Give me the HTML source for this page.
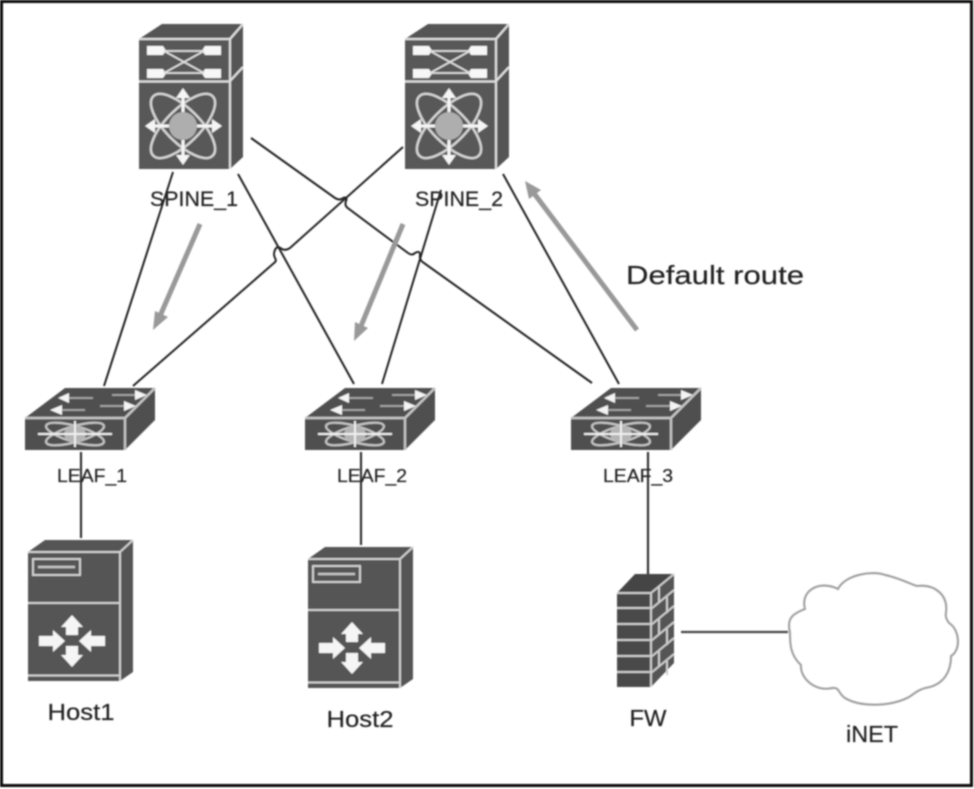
<!DOCTYPE html>
<html><head><meta charset="utf-8"><style>
html,body{margin:0;padding:0;background:#fff;width:974px;height:789px;overflow:hidden}
svg{display:block}
text{font-family:"Liberation Sans",sans-serif;fill:#222;stroke:#333;stroke-width:.25}
</style></head><body>
<svg width="974" height="789" viewBox="0 0 974 789" xmlns="http://www.w3.org/2000/svg">
<defs>
<filter id="b" x="-5%" y="-5%" width="110%" height="110%"><feGaussianBlur stdDeviation="0.8"/></filter>
<g id="spine">
<path d="M0 15L23 0H104L91 15Z" fill="#555"/>
<path d="M91 15L104 0V133L91 145Z" fill="#555"/>
<rect x="0" y="15" width="91" height="130" fill="#585858"/>
<path d="M0 15H91V145M91 15L104 0M91 57L104 43M0 57.500H91" fill="none" stroke="#ddd" stroke-width="2.200"/>
<path d="M8 22H24L27 26.500L24 31H8ZM82 22H66L63 26.500L66 31H82ZM8 45H24L27 49.500L24 54H8ZM82 45H66L63 49.500L66 54H82Z" fill="#f7f7f7"/>
<path d="M25 27L65 49M65 27L25 49M25 27H65M25 49H65" fill="none" stroke="#e0e0e0" stroke-width="1.800"/>
<g fill="none" stroke="#d4d4d4" stroke-width="2.400">
<ellipse cx="44" cy="102" rx="42" ry="17" transform="rotate(45 44 102)"/>
<ellipse cx="44" cy="102" rx="42" ry="17" transform="rotate(-45 44 102)"/>
</g>
<path d="M44 88V70M44 116V134M30 102H12M58 102H76" fill="none" stroke="#f5f5f5" stroke-width="3"/>
<path d="M44 64L37 74H51ZM44 141L37 131H51ZM6 102L16 95V109ZM83 102L73 95V109Z" fill="#f5f5f5"/>
<circle cx="44" cy="102" r="14" fill="#aeaeae"/>
</g>
<g id="leaf">
<path d="M0 30L40 0H130L100 30Z" fill="#505050"/>
<path d="M100 30L130 0V32L100 62Z" fill="#4f4f4f"/>
<rect x="0" y="30" width="100" height="32" fill="#505050"/>
<path d="M0 30H100V62M100 30L130 0" fill="none" stroke="#c4c4c4" stroke-width="2.400"/>
<path d="M43 10H68M87 7H112M36 22H60M75 18H100" stroke="#aaa" stroke-width="1.800" fill="none"/>
<path d="M33 10L44 5V15ZM122 7L110 2V12ZM25 22L37 17V27ZM111 18L99 13V23Z" fill="#f4f4f4"/>
<g fill="none" stroke="#c4c4c4" stroke-width="2.200">
<ellipse cx="50" cy="46" rx="30" ry="8" transform="rotate(16 50 46)"/>
<ellipse cx="50" cy="46" rx="30" ry="8" transform="rotate(-16 50 46)"/>
</g>
<ellipse cx="50" cy="46" rx="11" ry="8" fill="#b5b5b5"/>
<path d="M50 33V59M13 46H87" stroke="#f0f0f0" stroke-width="2"/>
</g>
<g id="host">
<path d="M0 12L17 0H105L92 12Z" fill="#555"/>
<path d="M92 12L105 0V132L92 141Z" fill="#555"/>
<rect x="0" y="12" width="92" height="129" fill="#555"/>
<path d="M0 12H92V141M92 12L105 0M0 63H92M0 135.500H92" fill="none" stroke="#cfcfcf" stroke-width="2"/>
<rect x="5" y="19" width="47" height="16" fill="none" stroke="#d0d0d0" stroke-width="2"/>
<path d="M10 27H47" stroke="#c4c4c4" stroke-width="2.500"/>
<path d="M44 75L33 87H38V95H50V87H55ZM44 127L33 115H38V106H50V115H55Z" fill="#f5f5f5"/>
<path d="M11 96H25V90L37 101L25 112V106H11ZM77 96H63V90L51 101L63 112V106H77Z" fill="#f5f5f5"/>
</g>
</defs>
<rect width="974" height="789" fill="#fff"/>
<g filter="url(#b)">
<path d="M1.500 1.500H971.500V785.500H1.500Z" fill="none" stroke="#111" stroke-width="3"/>
<use href="#spine" x="139" y="24"/>
<use href="#spine" x="405" y="24"/>
<use href="#leaf" x="25" y="388"/>
<use href="#leaf" x="305" y="388"/>
<use href="#leaf" x="571" y="388"/>
<use href="#host" x="28" y="540"/>
<use href="#host" x="308" y="547"/>
<g stroke="#222" stroke-width="2" fill="none">
<path d="M173 172L104 386"/>
<path d="M238 174L354 384"/>
<path d="M251 138L335 198Q340 201 343 198Q348 196 346 201Q344 206 349 209L408 253Q412 256 415 253Q420 250 420 255Q419 260 424 263L592 383"/>
<path d="M403 147L290 248Q285 251 282 249Q277 245 275 250Q273 254 275 258Q277 261 274 263L133 386"/>
<path d="M441 190L382 384"/>
<path d="M503 174L619 384"/>
<path d="M81 452V538M361 452V545M648 452V574" stroke="#333" stroke-width="2.200"/>
<path d="M681 632H788" stroke="#444" stroke-width="2.200"/>
</g>
<g stroke="#999" stroke-width="5" fill="none">
<path d="M200 224L160 316"/>
<path d="M403 224L361 326"/>
<path d="M637 330L533 192"/>
</g>
<g fill="#999">
<path d="M153 330L155 311L168 317Z"/>
<path d="M354 341L355 322L368 328Z"/>
<path d="M525 181L541 190L529 199Z"/>
</g>
<!-- firewall -->
<path d="M617 593L635 574H674L651 593Z" fill="#444"/>
<path d="M651 593L674 574V663L651 687Z" fill="#555"/>
<rect x="617" y="593" width="34" height="94" fill="#4a4a4a"/>
<g stroke="#ccc" stroke-width="2" fill="none">
<path d="M617 593H651V687M651 593L674 574M617 608H651M617 624H651M617 640H651M617 656H651M617 672H651"/>
<path d="M651 609L674 590M651 625L674 606M651 641L674 622M651 657L674 638M651 673L674 654"/>
<path d="M659 586V602M667 597V613M659 618V634M667 629V645M659 650V666M667 661V675"/>
</g>
<!-- cloud -->
<path d="M790 632C786 617 795 613 805 609C800 590 820 580 838 589C845 575 872 570 885 575C900 578 912 585 917 586C935 584 948 595 946 612C945 618 947 620 949 623C960 630 961 650 951 656C951 670 945 685 925 688C918 690 915 693 909 697C890 707 860 707 845 698C837 692 840 687 832 688C815 692 800 678 801 665C790 655 790 643 790 632Z" fill="#fff" stroke="#a0a0a0" stroke-width="2.200"/>
<text x="194" y="206" font-size="21" text-anchor="middle" textLength="88" lengthAdjust="spacingAndGlyphs">SPINE_1</text>
<text x="459" y="206" font-size="21" text-anchor="middle" textLength="88" lengthAdjust="spacingAndGlyphs">SPINE_2</text>
<text x="92" y="482" font-size="18" text-anchor="middle" textLength="70" lengthAdjust="spacingAndGlyphs">LEAF_1</text>
<text x="372" y="482" font-size="18" text-anchor="middle" textLength="70" lengthAdjust="spacingAndGlyphs">LEAF_2</text>
<text x="638" y="482" font-size="18" text-anchor="middle" textLength="70" lengthAdjust="spacingAndGlyphs">LEAF_3</text>
<text x="81" y="720" font-size="23" text-anchor="middle" textLength="67" lengthAdjust="spacingAndGlyphs">Host1</text>
<text x="360" y="727" font-size="23" text-anchor="middle" textLength="67" lengthAdjust="spacingAndGlyphs">Host2</text>
<text x="648" y="726" font-size="23" text-anchor="middle" textLength="37" lengthAdjust="spacingAndGlyphs">FW</text>
<text x="872" y="742" font-size="23" text-anchor="middle" textLength="52" lengthAdjust="spacingAndGlyphs">iNET</text>
<text x="626" y="284" font-size="26" textLength="178" lengthAdjust="spacingAndGlyphs">Default route</text>
</g>
</svg>
</body></html>
